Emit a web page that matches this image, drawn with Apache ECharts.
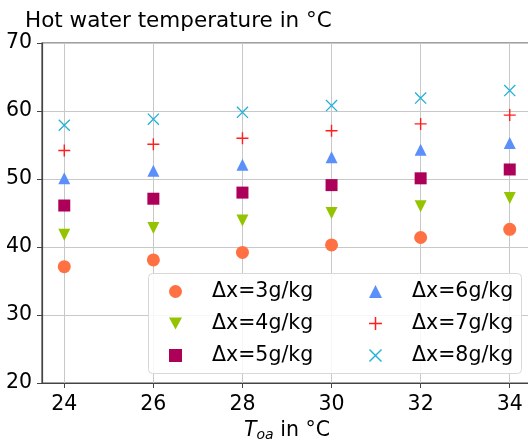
<!DOCTYPE html>
<html>
<head>
<meta charset="utf-8">
<script src="https://cdn.jsdelivr.net/npm/echarts@6/dist/echarts.min.js"></script>
<style>
  html, body { margin: 0; padding: 0; background: #fff; }
  #chart { width: 528px; height: 441px; }
</style>
</head>
<body>
<div id="chart"></div>
<script>
// outdoor air temperature (x) and hot water temperature per humidity difference
const toa = [24, 26, 28, 30, 32, 34]
const xTicks = [24, 26, 28, 30, 32, 34]
const dx3 = [37.1, 38.1, 39.2, 40.3, 41.4, 42.6]
const dx4 = [41.8, 42.8, 43.9, 45.0, 46.0, 47.2]
const dx5 = [46.1, 47.1, 48.0, 49.1, 50.1, 51.4]
const dx6 = [50.1, 51.2, 52.1, 53.2, 54.3, 55.3]
const dx7 = [54.2, 55.1, 56.0, 57.1, 58.1, 59.4]
const dx8 = [57.9, 58.8, 59.8, 60.8, 61.9, 63.0]

const font = 'DejaVu Sans'
const fs = 20.5
const downTri = 'path://M-5.5,0 L5.5,0 L0,10 Z'
const plusPath = 'path://M-0.7,-6 L0.7,-6 L0.7,-0.7 L6,-0.7 L6,0.7 L0.7,0.7 L0.7,6 L-0.7,6 L-0.7,0.7 L-6,0.7 L-6,-0.7 L-0.7,-0.7 Z'
const crossPath = 'path://M-6.495,-5.505 L5.505,6.495 L6.495,5.505 L-5.505,-6.495 Z M-5.505,6.495 L6.495,-5.505 L5.505,-6.495 L-6.495,5.505 Z'

function pts(vals) {
  return toa.map((t, i) => [t, vals[i]])
}

function scatter(name, vals, color, symbol, size) {
  return {
    name: name,
    type: 'scatter',
    data: pts(vals),
    symbol: symbol,
    symbolSize: size,
    itemStyle: { color: color, opacity: 1 },
    z: 2
  }
}

const chart = echarts.init(document.getElementById('chart'))
const legendText = { fontFamily: font, fontSize: fs, color: '#000', lineHeight: 20, padding: [0, 0, 0, 25] }

const option = {
  animation: false,
  title: {
    text: 'Hot water temperature in °C',
    left: 20,
    top: 5,
    textStyle: { fontFamily: font, fontSize: 21.5, fontWeight: 'normal', color: '#000' }
  },
  grid: {
    left: 42, top: 43, right: -4, bottom: 58,
    outerBoundsMode: 'none',
    containLabel: false,
    show: true,
    borderColor: '#444',
    borderWidth: 1.2,
    backgroundColor: 'transparent'
  },
  xAxis: {
    type: 'value',
    min: 23.5,
    max: 34.5,
    name: '{i|T}{s|oa}{n| in °C}',
    nameLocation: 'middle',
    nameGap: 35,
    nameTextStyle: {
      fontFamily: font,
      color: '#000',
      rich: {
        i: { fontFamily: font, fontSize: fs, fontStyle: 'italic', color: '#000' },
        s: { fontFamily: font, fontSize: 14, fontStyle: 'italic', color: '#000', padding: [10, 0, 0, 0] },
        n: { fontFamily: font, fontSize: fs, color: '#000' }
      }
    },
    axisLine: { onZero: false, lineStyle: { color: '#444', width: 1.2 } },
    axisTick: { customValues: xTicks, length: 5, lineStyle: { color: '#444' } },
    axisLabel: { customValues: xTicks, fontFamily: font, fontSize: fs, color: '#000', margin: 11 },
    splitLine: { show: true, lineStyle: { color: '#c8c8c8', width: 1 } }
  },
  yAxis: {
    type: 'value',
    min: 20,
    max: 70,
    interval: 10,
    axisLine: { show: true, onZero: false, lineStyle: { color: '#444', width: 1.2 } },
    axisTick: { show: true, length: 5, lineStyle: { color: '#444' } },
    axisLabel: { fontFamily: font, fontSize: fs, color: '#000', margin: 10 },
    splitLine: { show: true, lineStyle: { color: '#c8c8c8', width: 1 } }
  },
  graphic: [{
    type: 'rect',
    left: 148,
    top: 273,
    z: 3,
    shape: { width: 373, height: 100, r: 4 },
    style: { fill: 'rgba(255,255,255,0.85)', stroke: '#d8d8d8', lineWidth: 1 }
  }],
  legend: [{
    orient: 'vertical',
    left: 169,
    top: 281,
    padding: 0,
    itemGap: 11,
    itemWidth: 13,
    itemHeight: 13,
    z: 5,
    data: ['Δx=3g/kg', 'Δx=4g/kg', 'Δx=5g/kg'],
    textStyle: legendText
  }, {
    orient: 'vertical',
    left: 369,
    top: 281,
    padding: 0,
    itemGap: 11,
    itemWidth: 13,
    itemHeight: 13,
    z: 5,
    data: ['Δx=6g/kg', 'Δx=7g/kg', 'Δx=8g/kg'],
    textStyle: legendText
  }],
  series: [
    scatter('Δx=3g/kg', dx3, '#ff7043', 'circle', 13),
    scatter('Δx=4g/kg', dx4, '#94c400', downTri, 12),
    scatter('Δx=5g/kg', dx5, '#ad0059', 'rect', 12),
    scatter('Δx=6g/kg', dx6, '#5b8ffa', 'triangle', 12),
    scatter('Δx=7g/kg', dx7, '#ff1f1f', plusPath, 12),
    scatter('Δx=8g/kg', dx8, '#1fb1d6', crossPath, 12)
  ]
}

chart.setOption(option)
</script>
</body>
</html>
